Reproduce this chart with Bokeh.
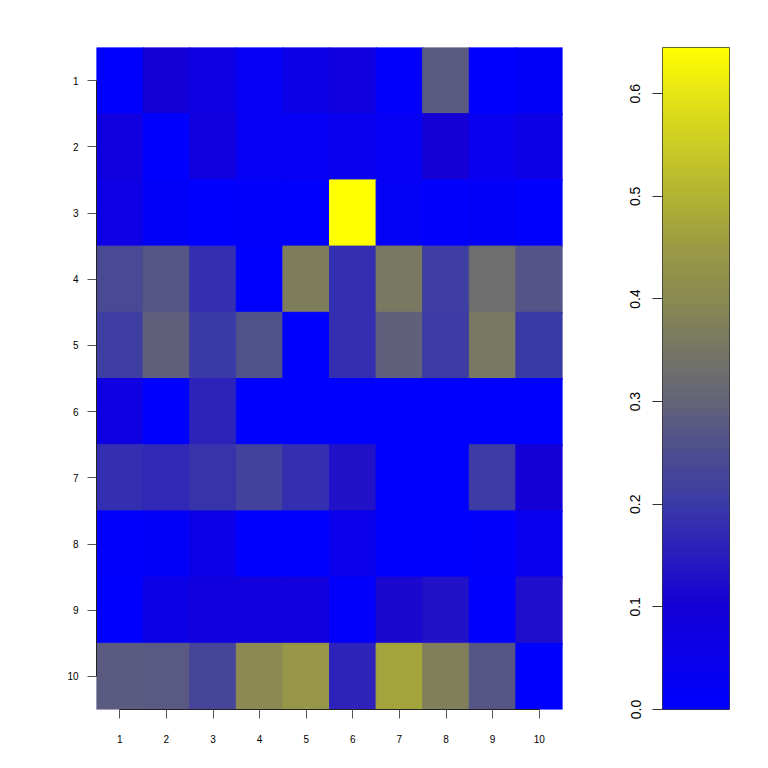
import numpy as np
from bokeh.plotting import figure
from bokeh.layouts import row
from bokeh.models import Range1d, FixedTicker, LinearColorMapper, ColumnDataSource
from bokeh.transform import linear_cmap
from bokeh.embed import file_html
from bokeh.resources import INLINE

# ---- data (rows top to bottom, columns left to right) ----
row_labels = ["1", "2", "3", "4", "5", "6", "7", "8", "9", "10"]
col_labels = ["1", "2", "3", "4", "5", "6", "7", "8", "9", "10"]
r1 = [0.0, 0.10, 0.07, 0.03, 0.06, 0.08, 0.01, 0.28, 0.0, 0.015]
r2 = [0.08, 0.0, 0.08, 0.03, 0.03, 0.04, 0.03, 0.10, 0.04, 0.06]
r3 = [0.065, 0.015, 0.0, 0.01, 0.0, 0.645, 0.025, 0.01, 0.02, 0.0]
r4 = [0.24, 0.27, 0.18, 0.0, 0.37, 0.18, 0.36, 0.21, 0.33, 0.265]
r5 = [0.21, 0.29, 0.20, 0.26, 0.0, 0.18, 0.29, 0.205, 0.36, 0.20]
r6 = [0.075, 0.0, 0.16, 0.0, 0.0, 0.0, 0.0, 0.0, 0.0, 0.0]
r7 = [0.18, 0.17, 0.19, 0.22, 0.18, 0.13, 0.0, 0.0, 0.205, 0.10]
r8 = [0.01, 0.02, 0.055, 0.0, 0.005, 0.05, 0.0, 0.0, 0.01, 0.04]
r9 = [0.0, 0.06, 0.08, 0.085, 0.085, 0.01, 0.115, 0.13, 0.0, 0.125]
r10 = [0.28, 0.275, 0.23, 0.40, 0.44, 0.16, 0.47, 0.375, 0.27, 0.0]
rows = [r1, r2, r3, r4, r5, r6, r7, r8, r9, r10]
zmin, zmax = 0.0, 0.645
cbar_ticks = [0.0, 0.1, 0.2, 0.3, 0.4, 0.5, 0.6]

# ---- palette (anchor colours of the ramp) ----
anchors = [
    (0.00, (0, 0, 255)),
    (0.10, (20, 0, 214)),
    (0.15, (42, 30, 190)),
    (0.20, (58, 58, 166)),
    (0.25, (77, 77, 144)),
    (0.30, (100, 100, 120)),
    (0.35, (117, 117, 102)),
    (0.40, (138, 138, 82)),
    (0.45, (154, 154, 68)),
    (0.50, (178, 178, 52)),
    (0.55, (203, 203, 37)),
    (0.60, (228, 228, 22)),
    (0.645, (255, 255, 0)),
]
N = 256
pal = []
av = [a[0] for a in anchors]
for i in range(N):
    v = zmin + (zmax - zmin) * i / (N - 1)
    c = [int(round(np.interp(v, av, [a[1][k] for a in anchors]))) for k in range(3)]
    pal.append("#%02x%02x%02x" % tuple(c))

xs, ys, vs = [], [], []
for ri, r in enumerate(rows):
    for ci, v in enumerate(r):
        xs.append(ci + 1)
        ys.append(ri + 1)
        vs.append(v)
src = ColumnDataSource(dict(x=xs, y=ys, v=vs))

FONT = "Liberation Sans"

p = figure(width=608, height=760, x_range=Range1d(0.5, 10.5), y_range=Range1d(10.5, 0.5),
           output_backend="svg", toolbar_location=None,
           min_border_left=96, min_border_right=46, min_border_top=47, min_border_bottom=51)
cm = linear_cmap("v", pal, zmin, zmax)
p.rect(x="x", y="y", width=1, height=1, source=src, fill_color=cm, line_color=cm,
       line_width=1, dilate=True)
p.grid.visible = False
p.outline_line_color = None
p.xaxis.ticker = FixedTicker(ticks=list(range(1, 11)))
p.yaxis.ticker = FixedTicker(ticks=list(range(1, 11)))
p.xaxis.major_label_overrides = {i + 1: s for i, s in enumerate(col_labels)}
p.yaxis.major_label_overrides = {i + 1: s for i, s in enumerate(row_labels)}
for ax in (p.xaxis[0], p.yaxis[0]):
    ax.bounds = (1, 10)
    ax.major_tick_out = 9
    ax.major_tick_in = 0
    ax.minor_tick_out = 0
    ax.minor_tick_in = 0
    ax.axis_line_color = "#222222"
    ax.major_tick_line_color = "#555555"
    ax.major_label_text_font = FONT
    ax.major_label_text_font_size = "10px"
    ax.major_label_text_color = "black"
p.xaxis.major_label_standoff = 16
p.yaxis.major_label_standoff = 9

# ---- colour bar as its own figure ----
cb = figure(width=152, height=760, x_range=Range1d(0, 1), y_range=Range1d(zmin, zmax),
            output_backend="svg", toolbar_location=None,
            min_border_left=54, min_border_right=31, min_border_top=47, min_border_bottom=51)
mapper = LinearColorMapper(palette=pal, low=zmin, high=zmax)
grad = np.linspace(zmin, zmax, 400).reshape(-1, 1)
cb.image(image=[grad], x=0, y=zmin, dw=1, dh=zmax - zmin, color_mapper=mapper)
cb.grid.visible = False
cb.xaxis.visible = False
cb.outline_line_color = "#333333"
cb.outline_line_width = 1
cb.yaxis.ticker = FixedTicker(ticks=cbar_ticks)
cb.yaxis.major_label_overrides = {t: "%.1f" % t for t in cbar_ticks}
cb.yaxis.major_label_orientation = "vertical"
cb.yaxis.axis_line_color = None
cb.yaxis.major_tick_out = 10
cb.yaxis.major_tick_in = 0
cb.yaxis.minor_tick_out = 0
cb.yaxis.minor_tick_in = 0
cb.yaxis.major_tick_line_color = "#333333"
cb.yaxis.major_label_text_font = FONT
cb.yaxis.major_label_text_font_size = "14px"
cb.yaxis.major_label_text_color = "black"
cb.yaxis.major_label_standoff = 12

layout = row(p, cb)
open("out.html", "w").write(file_html(layout, INLINE))
